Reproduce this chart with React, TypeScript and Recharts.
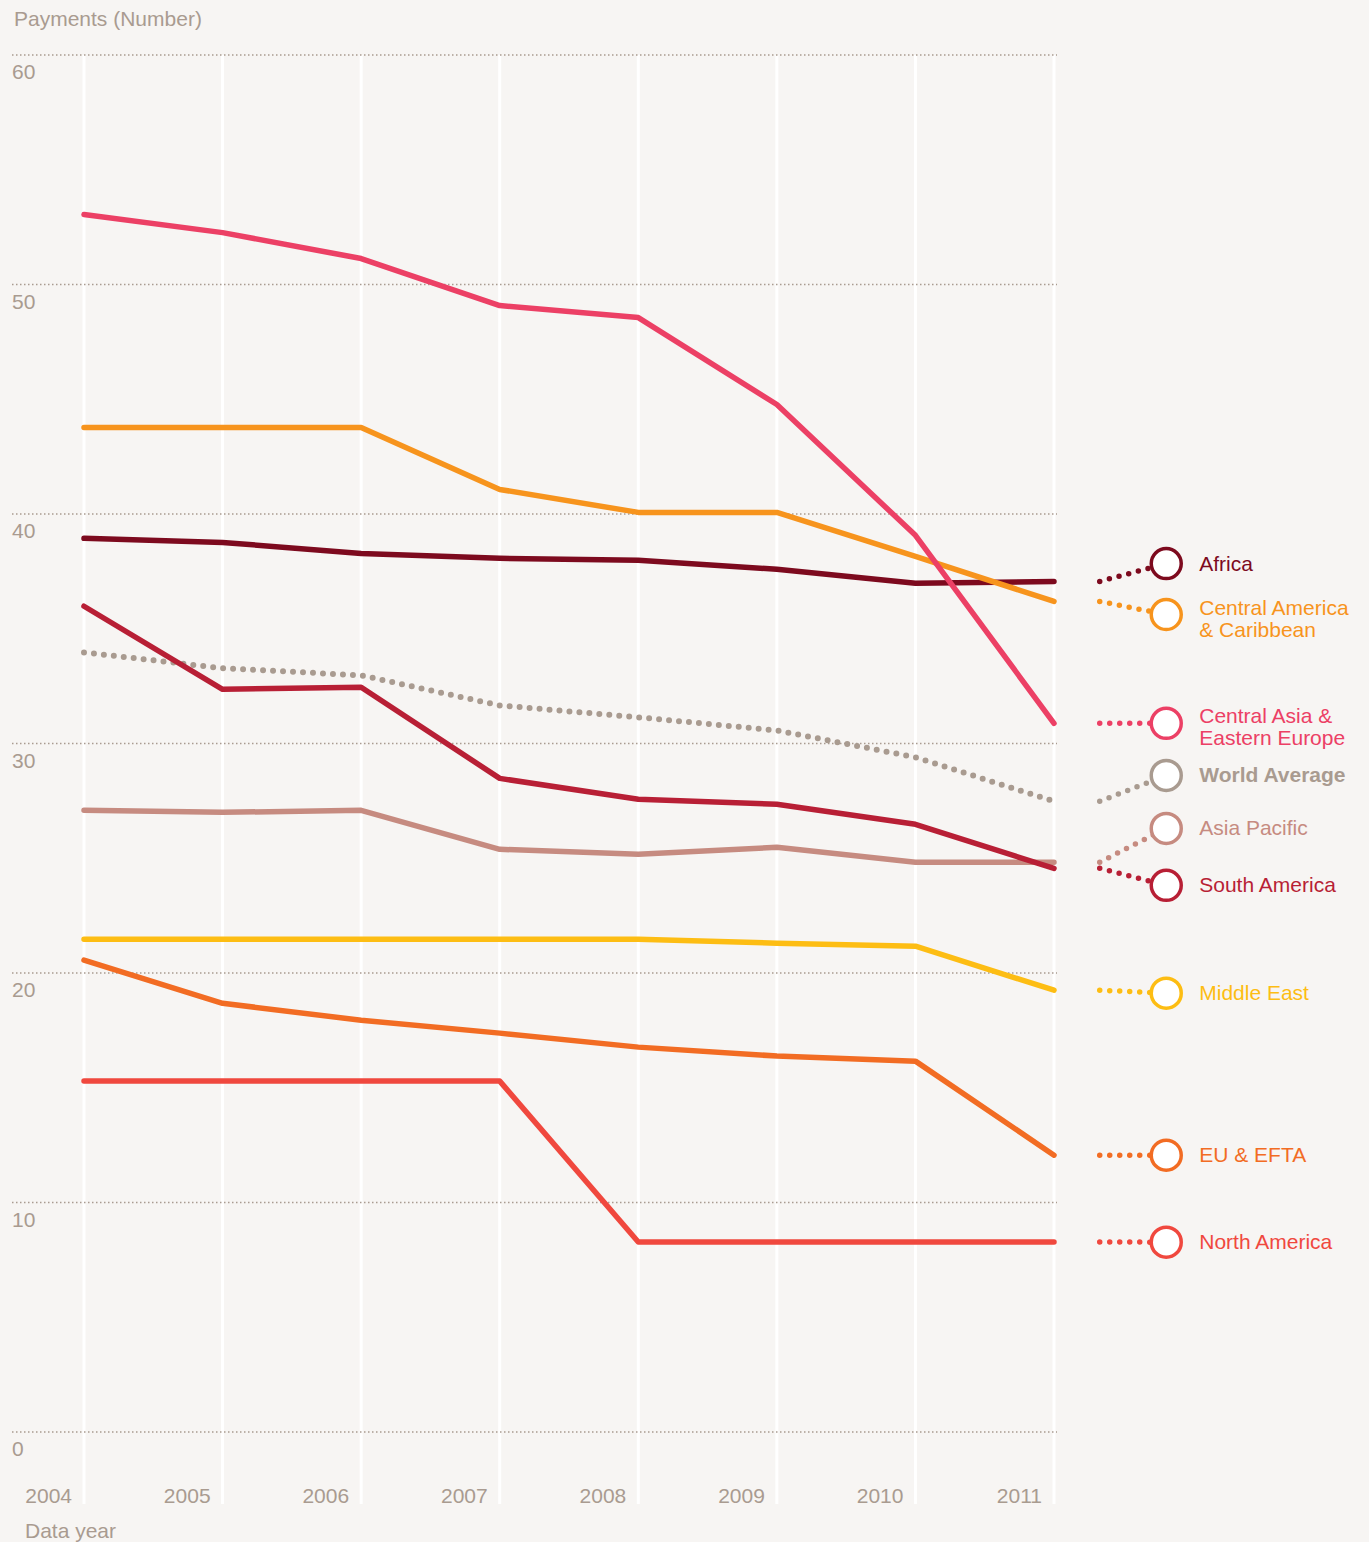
import React from 'react';
import { LineChart, Line, XAxis, YAxis, ReferenceLine, ReferenceDot } from 'recharts';

const years = [2004, 2005, 2006, 2007, 2008, 2009, 2010, 2011];
const yTicks = [0, 10, 20, 30, 40, 50, 60];

const centralAsia = [53.05, 52.26, 51.13, 49.08, 48.56, 44.77, 39.07, 30.88];
const centralAmerica = [43.77, 43.77, 43.77, 41.07, 40.07, 40.07, 38.15, 36.19];
const africa = [38.94, 38.76, 38.28, 38.07, 37.98, 37.59, 36.98, 37.06];
const southAmerica = [35.98, 32.36, 32.45, 28.48, 27.57, 27.35, 26.48, 24.56];
const worldAverage = [33.97, 33.28, 32.97, 31.66, 31.14, 30.57, 29.4, 27.48];
const asiaPacific = [27.09, 27.0, 27.09, 25.39, 25.17, 25.48, 24.83, 24.83];
const middleEast = [21.47, 21.47, 21.47, 21.47, 21.47, 21.3, 21.17, 19.25];
const euEfta = [20.56, 18.68, 17.94, 17.38, 16.77, 16.38, 16.16, 12.06];
const northAmerica = [15.29, 15.29, 15.29, 15.29, 8.28, 8.28, 8.28, 8.28];

const BG = '#f7f5f3';
const AXIS = '#a99b90';
const FONT = '"Liberation Sans", Arial, Helvetica, sans-serif';

// draw order: first = bottom
const seriesList = [
  { key: 'worldAverage', values: worldAverage, color: '#a99b90', dotted: true, bold: true, label: ['World Average'] },
  { key: 'asiaPacific', values: asiaPacific, color: '#c68b80', label: ['Asia Pacific'] },
  { key: 'southAmerica', values: southAmerica, color: '#b81f35', label: ['South America'] },
  { key: 'africa', values: africa, color: '#7d0a1e', label: ['Africa'] },
  { key: 'centralAmerica', values: centralAmerica, color: '#f7941d', label: ['Central America', '& Caribbean'] },
  { key: 'centralAsia', values: centralAsia, color: '#ec4065', label: ['Central Asia &', 'Eastern Europe'] },
  { key: 'middleEast', values: middleEast, color: '#fdbd13', label: ['Middle East'] },
  { key: 'euEfta', values: euEfta, color: '#f26c23', label: ['EU & EFTA'] },
  { key: 'northAmerica', values: northAmerica, color: '#f0483e', label: ['North America'] },
];

// where each legend marker sits (payments scale), and where connectors begin/end (year scale)
const legendSlots: Record<string, number> = {
  africa: 37.84,
  centralAmerica: 35.62,
  centralAsia: 30.88,
  worldAverage: 28.61,
  asiaPacific: 26.3,
  southAmerica: 23.82,
  middleEast: 19.12,
  euEfta: 12.06,
  northAmerica: 8.27,
};
const connectorStart = 2011.33;
const markerX = 2011.81;

const data = years.map((year, i) => {
  const row: Record<string, number> = { year };
  seriesList.forEach((s) => {
    row[s.key] = s.values[i];
  });
  return row;
});

const YTick = (props: any) => {
  const { x, y, payload } = props;
  return (
    <text x={x} y={y + 24} fill={AXIS} fontSize={21} fontFamily={FONT} textAnchor="start">
      {payload.value}
    </text>
  );
};

const XTick = (props: any) => {
  const { x, y, payload } = props;
  return (
    <text x={x - 12} y={y - 1} fill={AXIS} fontSize={21} fontFamily={FONT} textAnchor="end">
      {payload.value}
    </text>
  );
};

const legendShape = (s: (typeof seriesList)[number]) => (props: any) => {
  const { cx, cy } = props;
  const twoLines = s.label.length > 1;
  return (
    <g>
      <circle cx={cx} cy={cy} r={15} fill="#ffffff" stroke={s.color} strokeWidth={3.5} />
      {s.label.map((line, i) => (
        <text
          key={line}
          x={cx + 33}
          y={cy + (twoLines ? 0 : 7) + i * 22}
          fill={s.color}
          fontSize={21}
          fontFamily={FONT}
          fontWeight={s.bold ? 'bold' : 'normal'}
        >
          {line}
        </text>
      ))}
    </g>
  );
};

export default function App() {
  return (
    <div style={{ position: 'absolute', left: 0, top: 0, width: 1369, height: 1542, background: BG, overflow: 'hidden' }}>
      <div style={{ position: 'absolute', left: 14, top: 8, fontFamily: FONT, fontSize: 21, lineHeight: '21px', color: AXIS }}>
        Payments (Number)
      </div>
      <div style={{ position: 'absolute', left: 25, top: 1520, fontFamily: FONT, fontSize: 21, lineHeight: '21px', color: AXIS }}>
        Data year
      </div>
      <LineChart width={1369} height={1542} data={data} margin={{ top: 55, right: 312, bottom: 0, left: 11 }}>
        <XAxis
          dataKey="year"
          type="number"
          domain={[2004, 2011]}
          ticks={years}
          padding={{ left: 72, right: 3 }}
          height={38}
          axisLine={false}
          tickLine={false}
          tickSize={0}
          tickMargin={0}
          tick={<XTick />}
          interval={0}
        />
        <YAxis
          type="number"
          domain={[0, 60]}
          ticks={yTicks}
          padding={{ top: 0, bottom: 72 }}
          width={1}
          axisLine={false}
          tickLine={false}
          tickSize={0}
          tickMargin={0}
          tick={<YTick />}
          interval={0}
        />
        {years.map((yr) => (
          <ReferenceLine key={`vx-${yr}`} x={yr} stroke="#ffffff" strokeWidth={3} zIndex={-100} />
        ))}
        {yTicks.map((t) => (
          <ReferenceLine
            key={`hy-${t}`}
            y={t}
            stroke={AXIS}
            strokeWidth={1.5}
            strokeDasharray="1.5 2.5"
            zIndex={-90}
          />
        ))}
        {seriesList.map((s) => (
          <Line
            key={s.key}
            type="linear"
            dataKey={s.key}
            stroke={s.color}
            strokeWidth={s.dotted ? 6 : 5.5}
            strokeLinecap="round"
            strokeLinejoin="round"
            strokeDasharray={s.dotted ? '0 10' : undefined}
            dot={false}
            activeDot={false}
            isAnimationActive={false}
          />
        ))}
        {seriesList.map((s) => (
          <ReferenceLine
            key={`c-${s.key}`}
            segment={[
              { x: connectorStart, y: s.values[s.values.length - 1] },
              { x: markerX, y: legendSlots[s.key] },
            ]}
            stroke={s.color}
            strokeWidth={5.5}
            strokeLinecap="round"
            strokeDasharray="0 10"
            ifOverflow="visible"
            zIndex={1400}
          />
        ))}
        {seriesList.map((s) => (
          <ReferenceDot
            key={`d-${s.key}`}
            x={markerX}
            y={legendSlots[s.key]}
            r={15}
            ifOverflow="visible"
            shape={legendShape(s)}
            zIndex={1500}
          />
        ))}
      </LineChart>
    </div>
  );
}
